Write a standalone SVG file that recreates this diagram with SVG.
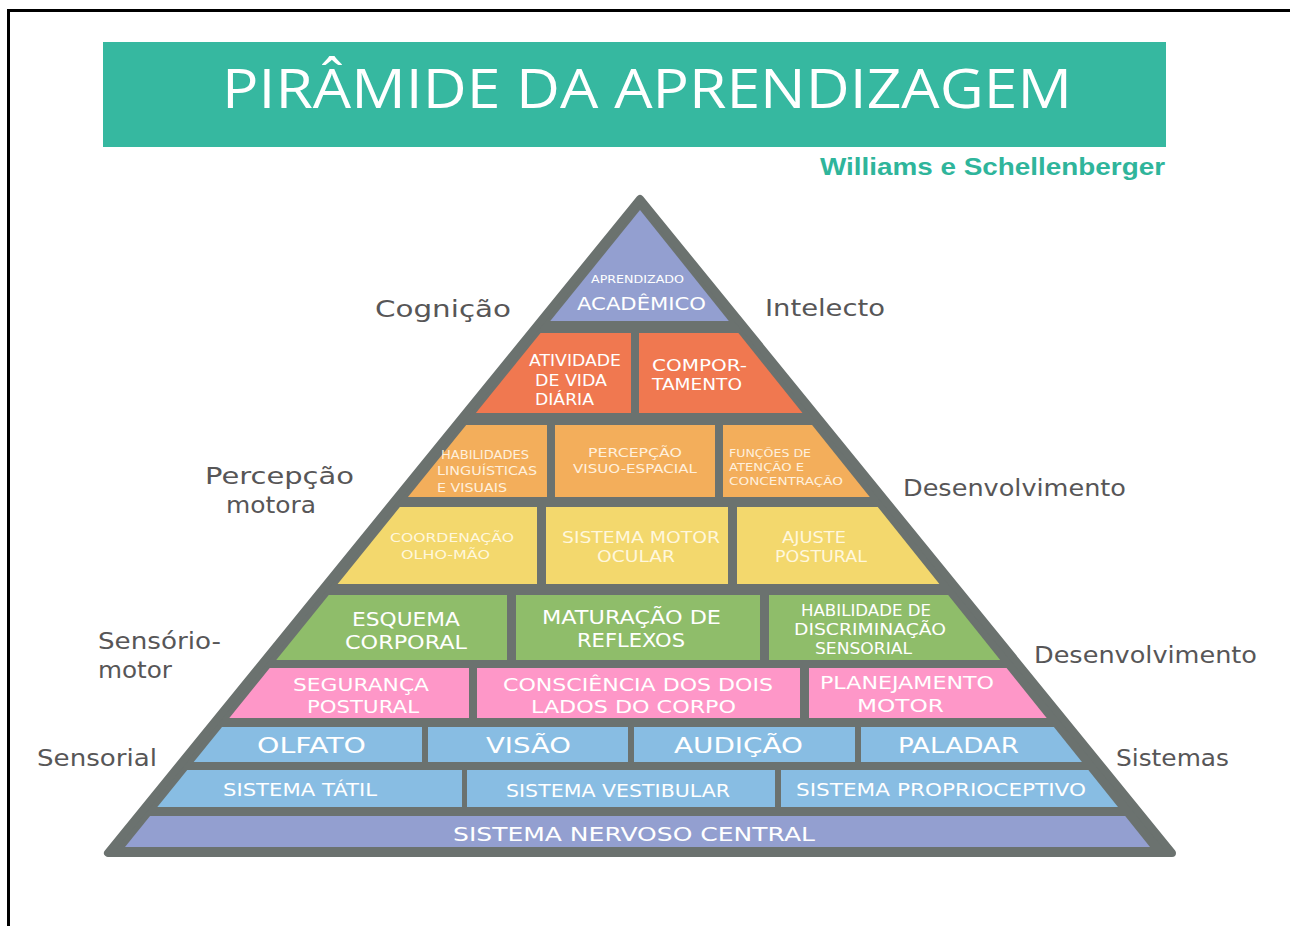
<svg xmlns="http://www.w3.org/2000/svg" width="1290" height="926" viewBox="0 0 1290 926">
<defs>
<clipPath id="inner"><polygon points="640,210 125,847 1150,847"/></clipPath>
<style>
.bg{fill:#ffffff}
.frame{stroke:#000;stroke-width:3;fill:none}
.banner{fill:#36b8a0}
.title{fill:#ffffff;font-family:"Open Sans","Liberation Sans",sans-serif;font-size:54px;font-weight:400}
.author{fill:#2fb59b;font-family:"Liberation Sans",sans-serif;font-size:24px;font-weight:700}
.lab{fill:#575657;font-family:"DejaVu Sans","Liberation Sans",sans-serif;font-size:23px}
.t{fill:#ffffff;font-family:"DejaVu Sans","Liberation Sans",sans-serif;text-anchor:middle}
.s{text-anchor:start}
.pale{fill:#fff7dc}
.paleo{fill:#fff0dd}
.purple{fill:#939fd0}
.orange{fill:#f07850}
.lorange{fill:#f3ae5b}
.yellow{fill:#f3d86d}
.green{fill:#8fbd6a}
.pink{fill:#fe97c8}
.blue{fill:#88bde3}
.gray{fill:#6b726f;stroke:#6b726f;stroke-width:8;stroke-linejoin:round}
</style>
</defs>
<rect class="bg" x="0" y="0" width="1290" height="926"/>
<path class="frame" d="M8.5,926 V10.5 H1290"/>

<g id="header">
<rect class="banner" x="103" y="42" width="1063" height="105"/>
<text class="title" x="647" y="108" text-anchor="middle" textLength="850" lengthAdjust="spacingAndGlyphs">PIRÂMIDE DA APRENDIZAGEM</text>
<text class="author" x="1165" y="175" text-anchor="end" textLength="345" lengthAdjust="spacingAndGlyphs">Williams e Schellenberger</text>
</g>

<g id="pyramid-frame">
<polygon class="gray" points="640,199 108,853 1172,853"/>
</g>

<g id="labels">
<text class="lab" x="375" y="317" textLength="136" lengthAdjust="spacingAndGlyphs">Cognição</text>
<text class="lab" x="765" y="316" textLength="120" lengthAdjust="spacingAndGlyphs">Intelecto</text>
<text class="lab" x="205" y="484" textLength="149" lengthAdjust="spacingAndGlyphs">Percepção</text>
<text class="lab" x="226" y="513" textLength="90" lengthAdjust="spacingAndGlyphs">motora</text>
<text class="lab" x="903" y="496" textLength="223" lengthAdjust="spacingAndGlyphs">Desenvolvimento</text>
<text class="lab" x="98" y="649" textLength="123" lengthAdjust="spacingAndGlyphs">Sensório-</text>
<text class="lab" x="98" y="678" textLength="74" lengthAdjust="spacingAndGlyphs">motor</text>
<text class="lab" x="1034" y="663" textLength="223" lengthAdjust="spacingAndGlyphs">Desenvolvimento</text>
<text class="lab" x="37" y="766" textLength="120" lengthAdjust="spacingAndGlyphs">Sensorial</text>
<text class="lab" x="1116" y="766" textLength="113" lengthAdjust="spacingAndGlyphs">Sistemas</text>
</g>

<g id="cells">
<g id="academico">
<rect class="purple" x="300" y="205" width="700" height="116" clip-path="url(#inner)"/>
<text class="t" x="637.5" y="283" font-size="10" textLength="93" lengthAdjust="spacingAndGlyphs">APRENDIZADO</text>
<text class="t" x="641.5" y="309.5" font-size="18" textLength="129" lengthAdjust="spacingAndGlyphs">ACADÊMICO</text>
</g>
<g id="atividade">
<rect class="orange" x="300" y="333" width="331" height="80" clip-path="url(#inner)"/>
<text class="t s" x="529" y="365.5" font-size="15" textLength="92" lengthAdjust="spacingAndGlyphs">ATIVIDADE</text>
<text class="t s" x="535" y="385.5" font-size="15" textLength="72" lengthAdjust="spacingAndGlyphs">DE VIDA</text>
<text class="t s" x="535" y="404.5" font-size="15" textLength="59" lengthAdjust="spacingAndGlyphs">DIÁRIA</text>
</g>
<g id="comportamento">
<rect class="orange" x="639" y="333" width="400" height="80" clip-path="url(#inner)"/>
<text class="t s" x="652" y="370.5" font-size="15" textLength="95" lengthAdjust="spacingAndGlyphs">COMPOR-</text>
<text class="t s" x="652" y="389.5" font-size="15" textLength="90" lengthAdjust="spacingAndGlyphs">TAMENTO</text>
</g>
<g id="habilidades">
<rect class="lorange" x="300" y="425" width="247" height="72" clip-path="url(#inner)"/>
<text class="t s paleo" x="441" y="459" font-size="12" textLength="88" lengthAdjust="spacingAndGlyphs">HABILIDADES</text>
<text class="t s paleo" x="437" y="475" font-size="12" textLength="100" lengthAdjust="spacingAndGlyphs">LINGUÍSTICAS</text>
<text class="t s paleo" x="437" y="492" font-size="12" textLength="70" lengthAdjust="spacingAndGlyphs">E VISUAIS</text>
</g>
<g id="percepcao">
<rect class="lorange" x="555" y="425" width="160" height="72" clip-path="url(#inner)"/>
<text class="t paleo" x="635" y="457" font-size="12" textLength="94" lengthAdjust="spacingAndGlyphs">PERCEPÇÃO</text>
<text class="t paleo" x="635" y="473" font-size="12" textLength="124" lengthAdjust="spacingAndGlyphs">VISUO-ESPACIAL</text>
</g>
<g id="funcoes">
<rect class="lorange" x="723" y="425" width="300" height="72" clip-path="url(#inner)"/>
<text class="t s paleo" x="729" y="457" font-size="11" textLength="82" lengthAdjust="spacingAndGlyphs">FUNÇÕES DE</text>
<text class="t s paleo" x="729" y="471" font-size="11" textLength="75" lengthAdjust="spacingAndGlyphs">ATENÇÃO E</text>
<text class="t s paleo" x="729" y="485" font-size="11" textLength="114" lengthAdjust="spacingAndGlyphs">CONCENTRAÇÃO</text>
</g>
<g id="coordenacao">
<rect class="yellow" x="250" y="507" width="287" height="77" clip-path="url(#inner)"/>
<text class="t pale" x="452" y="541.5" font-size="13" textLength="124" lengthAdjust="spacingAndGlyphs">COORDENAÇÃO</text>
<text class="t pale" x="445.5" y="558.5" font-size="13" textLength="89" lengthAdjust="spacingAndGlyphs">OLHO-MÃO</text>
</g>
<g id="motor-ocular">
<rect class="yellow" x="546" y="507" width="182" height="77" clip-path="url(#inner)"/>
<text class="t pale" x="641" y="543" font-size="16" textLength="158" lengthAdjust="spacingAndGlyphs">SISTEMA MOTOR</text>
<text class="t pale" x="636" y="562" font-size="16" textLength="78" lengthAdjust="spacingAndGlyphs">OCULAR</text>
</g>
<g id="ajuste">
<rect class="yellow" x="737" y="507" width="300" height="77" clip-path="url(#inner)"/>
<text class="t pale" x="814" y="543" font-size="16" textLength="64" lengthAdjust="spacingAndGlyphs">AJUSTE</text>
<text class="t pale" x="821" y="562" font-size="16" textLength="92" lengthAdjust="spacingAndGlyphs">POSTURAL</text>
</g>
<g id="esquema">
<rect class="green" x="200" y="595" width="307" height="65" clip-path="url(#inner)"/>
<text class="t" x="406" y="626" font-size="19" textLength="108" lengthAdjust="spacingAndGlyphs">ESQUEMA</text>
<text class="t" x="406" y="649" font-size="19" textLength="122" lengthAdjust="spacingAndGlyphs">CORPORAL</text>
</g>
<g id="maturacao">
<rect class="green" x="516" y="595" width="244" height="65" clip-path="url(#inner)"/>
<text class="t" x="631.5" y="624" font-size="19" textLength="179" lengthAdjust="spacingAndGlyphs">MATURAÇÃO DE</text>
<text class="t" x="631" y="647" font-size="19" textLength="108" lengthAdjust="spacingAndGlyphs">REFLEXOS</text>
</g>
<g id="discriminacao">
<rect class="green" x="769" y="595" width="330" height="65" clip-path="url(#inner)"/>
<text class="t" x="866" y="615.5" font-size="15" textLength="130" lengthAdjust="spacingAndGlyphs">HABILIDADE DE</text>
<text class="t" x="870" y="634.5" font-size="15" textLength="152" lengthAdjust="spacingAndGlyphs">DISCRIMINAÇÃO</text>
<text class="t" x="863.5" y="653.5" font-size="15" textLength="97" lengthAdjust="spacingAndGlyphs">SENSORIAL</text>
</g>
<g id="seguranca">
<rect class="pink" x="150" y="668" width="319" height="50" clip-path="url(#inner)"/>
<text class="t" x="361" y="690.5" font-size="18" textLength="136" lengthAdjust="spacingAndGlyphs">SEGURANÇA</text>
<text class="t" x="363" y="712.5" font-size="18" textLength="112" lengthAdjust="spacingAndGlyphs">POSTURAL</text>
</g>
<g id="consciencia">
<rect class="pink" x="477" y="668" width="323" height="50" clip-path="url(#inner)"/>
<text class="t" x="638" y="690.5" font-size="18" textLength="270" lengthAdjust="spacingAndGlyphs">CONSCIÊNCIA DOS DOIS</text>
<text class="t" x="633.5" y="712.5" font-size="18" textLength="205" lengthAdjust="spacingAndGlyphs">LADOS DO CORPO</text>
</g>
<g id="planejamento">
<rect class="pink" x="809" y="668" width="350" height="50" clip-path="url(#inner)"/>
<text class="t" x="907" y="688.5" font-size="18" textLength="174" lengthAdjust="spacingAndGlyphs">PLANEJAMENTO</text>
<text class="t" x="900.5" y="711.5" font-size="18" textLength="87" lengthAdjust="spacingAndGlyphs">MOTOR</text>
</g>
<g id="olfato">
<rect class="blue" x="150" y="727" width="272" height="35" clip-path="url(#inner)"/>
<text class="t" x="311.5" y="753" font-size="22" textLength="109" lengthAdjust="spacingAndGlyphs">OLFATO</text>
</g>
<g id="visao">
<rect class="blue" x="428" y="727" width="200" height="35" clip-path="url(#inner)"/>
<text class="t" x="528.5" y="753" font-size="22" textLength="85" lengthAdjust="spacingAndGlyphs">VISÃO</text>
</g>
<g id="audicao">
<rect class="blue" x="634" y="727" width="221" height="35" clip-path="url(#inner)"/>
<text class="t" x="738.5" y="753" font-size="22" textLength="129" lengthAdjust="spacingAndGlyphs">AUDIÇÃO</text>
</g>
<g id="paladar">
<rect class="blue" x="861" y="727" width="300" height="35" clip-path="url(#inner)"/>
<text class="t" x="958.5" y="753" font-size="22" textLength="121" lengthAdjust="spacingAndGlyphs">PALADAR</text>
</g>
<g id="tatil">
<rect class="blue" x="100" y="770" width="362" height="37" clip-path="url(#inner)"/>
<text class="t" x="300" y="796" font-size="17" textLength="154" lengthAdjust="spacingAndGlyphs">SISTEMA TÁTIL</text>
</g>
<g id="vestibular">
<rect class="blue" x="467" y="770" width="308" height="37" clip-path="url(#inner)"/>
<text class="t" x="618" y="797" font-size="17" textLength="224" lengthAdjust="spacingAndGlyphs">SISTEMA VESTIBULAR</text>
</g>
<g id="proprioceptivo">
<rect class="blue" x="781" y="770" width="400" height="37" clip-path="url(#inner)"/>
<text class="t" x="941" y="796" font-size="17" textLength="290" lengthAdjust="spacingAndGlyphs">SISTEMA PROPRIOCEPTIVO</text>
</g>
<g id="snc">
<rect class="purple" x="100" y="816" width="1100" height="31" clip-path="url(#inner)"/>
<text class="t" x="634" y="841" font-size="19" textLength="362" lengthAdjust="spacingAndGlyphs">SISTEMA NERVOSO CENTRAL</text>
</g>
</g>

<g id="connectors"/>
</svg>
